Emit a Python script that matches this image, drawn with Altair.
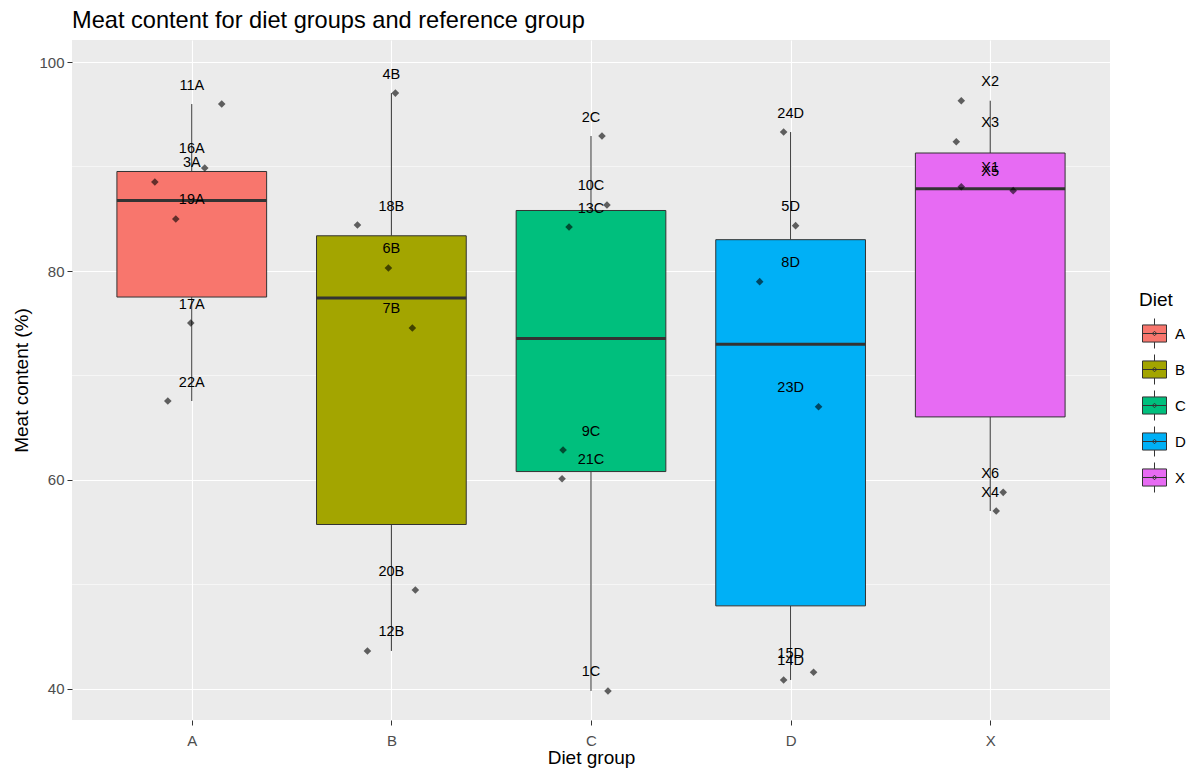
import altair as alt
import pandas as pd

FONT = "Liberation Sans"

groups = ["A", "B", "C", "D", "X"]
colors = ["#F8766D", "#A3A500", "#00BF7D", "#00B0F6", "#E76BF3"]

ids_A = ["11A", "16A", "3A", "19A", "17A", "22A"]
meat_A = [95.98, 89.86, 88.52, 84.98, 75.02, 67.56]
jit_A = [0.15, 0.065, -0.185, -0.08, -0.005, -0.12]

ids_B = ["4B", "18B", "6B", "7B", "20B", "12B"]
meat_B = [97.03, 84.40, 80.29, 74.55, 49.47, 43.64]
jit_B = [0.02, -0.17, -0.015, 0.105, 0.12, -0.12]

ids_C = ["2C", "10C", "13C", "9C", "21C", "1C"]
meat_C = [92.92, 86.32, 84.21, 62.87, 60.12, 39.81]
jit_C = [0.055, 0.08, -0.11, -0.14, -0.145, 0.085]

ids_D = ["24D", "5D", "8D", "23D", "15D", "14D"]
meat_D = [93.30, 84.34, 78.98, 67.01, 41.60, 40.86]
jit_D = [-0.035, 0.025, -0.155, 0.14, 0.115, -0.035]

ids_X = ["X2", "X3", "X1", "X5", "X6", "X4"]
meat_X = [96.30, 92.37, 88.07, 87.69, 58.82, 57.03]
jit_X = [-0.145, -0.17, -0.145, 0.115, 0.065, 0.03]

minor_breaks = [50, 70, 90]
major_breaks = [40, 60, 80, 100]

rows = []
for gi, (g, ids, vals, jits) in enumerate(zip(
        groups,
        [ids_A, ids_B, ids_C, ids_D, ids_X],
        [meat_A, meat_B, meat_C, meat_D, meat_X],
        [jit_A, jit_B, jit_C, jit_D, jit_X])):
    for i, v, j in zip(ids, vals, jits):
        rows.append({"diet": g, "pos": gi + 1, "id": i, "meat": v, "jit": j})
df = pd.DataFrame(rows)
minor_df = pd.DataFrame({"v": minor_breaks})

xscale = alt.Scale(domain=[0.4, 5.6], nice=False, zero=False)
yscale = alt.Scale(domain=[37.03, 102.11], nice=False, zero=False)

label_list = "[" + ",".join('"%s"' % g for g in groups) + "]"
xaxis = alt.Axis(values=[1, 2, 3, 4, 5], labelExpr=label_list + "[datum.value - 1]",
                 title="Diet group", grid=True, gridColor="white", gridWidth=1.1,
                 tickColor="#333333", tickSize=5, labelPadding=8, labelFontSize=15,
                 labelColor="#4D4D4D", titleFontSize=19, titleFontWeight="normal",
                 titleColor="black", titlePadding=0, domain=False, labelFont=FONT,
                 titleFont=FONT)
yaxis = alt.Axis(values=major_breaks, title="Meat content (%)", grid=True,
                 gridColor="white", gridWidth=1.1, tickColor="#333333", tickSize=5,
                 labelPadding=3, labelFontSize=15, labelColor="#4D4D4D",
                 titleFontSize=19, titleFontWeight="normal", titleColor="black",
                 titlePadding=7, domain=False, labelFont=FONT, titleFont=FONT)

base = alt.Chart(df)

minor = alt.Chart(minor_df).mark_rule(color="white", strokeWidth=0.55).encode(
    y=alt.Y("v:Q", scale=yscale, axis=yaxis)
)

boxes = base.transform_aggregate(
    q1="q1(meat)", med="median(meat)", q3="q3(meat)", lo="min(meat)", hi="max(meat)",
    groupby=["diet", "pos"]
).transform_calculate(xl="datum.pos - 0.375", xr="datum.pos + 0.375")

whisk_lo = boxes.mark_rule(color="#333333", strokeWidth=1).encode(
    x=alt.X("pos:Q", scale=xscale, axis=xaxis),
    y=alt.Y("lo:Q", scale=yscale, axis=yaxis), y2="q1:Q")
whisk_hi = boxes.mark_rule(color="#333333", strokeWidth=1).encode(
    x=alt.X("pos:Q", scale=xscale, axis=xaxis),
    y=alt.Y("q3:Q", scale=yscale, axis=yaxis), y2="hi:Q")

sym = ("M-0.8,-0.57H0.8V0.57H-0.8Z M-0.8,0H0.8 M0,-0.57V-1 M0,0.57V1 "
       "M0,-0.15L0.15,0L0,0.15L-0.15,0Z")
legend = alt.Legend(title="Diet", orient="none", legendX=1067, legendY=251,
                    symbolType=sym, symbolSize=900, symbolStrokeColor="#333333",
                    symbolStrokeWidth=1, labelFontSize=15, labelFont=FONT,
                    titleFont=FONT, titleFontSize=19, titleFontWeight="normal",
                    titleColor="black", labelColor="black", labelOffset=5,
                    rowPadding=1, titlePadding=8)

box = boxes.mark_rect(stroke="#333333", strokeWidth=1).encode(
    x=alt.X("xl:Q", scale=xscale, axis=xaxis), x2="xr:Q",
    y=alt.Y("q1:Q", scale=yscale, axis=yaxis), y2="q3:Q",
    fill=alt.Fill("diet:N", scale=alt.Scale(domain=groups, range=colors), legend=legend))

median = boxes.mark_rule(color="#333333", strokeWidth=3).encode(
    x=alt.X("xl:Q", scale=xscale, axis=xaxis), x2="xr:Q",
    y=alt.Y("med:Q", scale=yscale, axis=yaxis))

points = base.transform_calculate(xj="datum.pos + datum.jit").mark_point(
    shape="diamond", filled=True, color="black", opacity=0.6, size=58
).encode(x=alt.X("xj:Q", scale=xscale, axis=xaxis),
         y=alt.Y("meat:Q", scale=yscale, axis=yaxis))

labels = base.mark_text(fontSize=14.5, dy=-18.5, color="black", font=FONT,
                        baseline="middle", align="center").encode(
    x=alt.X("pos:Q", scale=xscale, axis=xaxis),
    y=alt.Y("meat:Q", scale=yscale, axis=yaxis), text="id:N")

chart = alt.layer(minor, whisk_lo, whisk_hi, box, median, points, labels).properties(
    width=1038, height=680,
    title=alt.TitleParams("Meat content for diet groups and reference group",
                          anchor="start", frame="group", fontSize=23.6,
                          fontWeight="normal", font=FONT, color="black", offset=7),
    autosize=alt.AutoSizeParams(type="none"),
    padding={"left": 64, "top": 32, "right": 80, "bottom": 48},
).configure_view(fill="#EBEBEB", strokeWidth=0)

chart.save("out.html", embed_options={"renderer": "svg", "actions": False})
